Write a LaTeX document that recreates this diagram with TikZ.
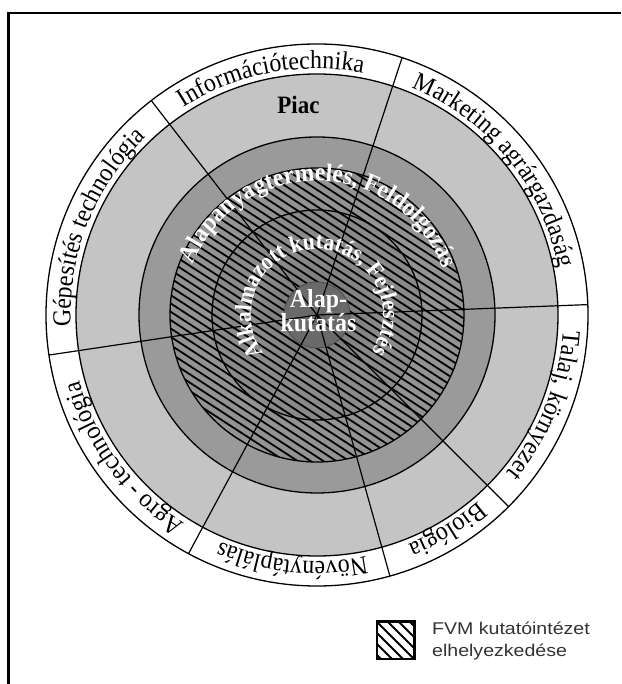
\documentclass[tikz,border=0pt]{standalone}
\usepackage{fontspec}
\setmainfont{Liberation Serif}
\newfontfamily\narrowserif[FakeStretch=0.92]{Liberation Serif}
\newfontfamily\legendfont[FakeStretch=1.15]{Liberation Sans}
\usetikzlibrary{decorations.text,calc}
\definecolor{ringlight}{HTML}{C4C4C4}
\definecolor{ringmid}{HTML}{9A9A9A}
\definecolor{hatchbg}{HTML}{939393}
\definecolor{innerbg}{HTML}{8A8A8A}
\definecolor{coredark}{HTML}{707070}
\definecolor{coredisc}{HTML}{6A6A6A}
\definecolor{legendtext}{HTML}{333333}
\tikzset{
  ringline/.style={draw=black, line width=1.3pt},
  sectorline/.style={black, line width=1.2pt},
  hatchline/.style={black, line width=1.8pt},
  framestyle/.style={black, line width=2.5pt},
}
\newcommand\bandlabel[2]{%
  \path[decorate,decoration={text along path,text align=center,
    text={|\narrowserif\fontsize{26}{26}\selectfont|#2}}]
    ($(C)+(#1+35:246.5pt)$) arc[start angle=#1+35, end angle=#1-35, radius=246.5pt];}
\begin{document}
\begin{tikzpicture}[x=1pt,y=1pt]
\useasboundingbox (0,0) rectangle (621,684);
\coordinate (C) at (317,369);
% frame
\draw[framestyle] (8.5,0) -- (8.5,671) -- (621,671);
% rings
\fill[white] (C) circle (271pt);
\fill[ringlight] (C) circle (241pt);
\fill[ringmid] (C) circle (178pt);
\fill[hatchbg] (C) circle (147pt);
\fill[innerbg] (C) circle (105pt);
\shade[inner color=coredark, outer color=innerbg] (C) circle (62pt);
% hatching
\begin{scope}
  \clip (C) circle (147pt);
  \begin{scope}[shift={(C)}, rotate=-33]
    \foreach \k in {-22,...,22}
      \draw[hatchline] (-160, \k*7) -- (160, \k*7);
  \end{scope}
\end{scope}
\fill[coredisc] (C) circle (33pt);
% outlines
\foreach \r in {271,241,178,147,105}
  \draw[ringline] (C) circle (\r pt);
\draw[black!70, line width=0.8pt] (C) circle (33pt);
% sector lines
\foreach \a in {127.7,71.7,2.2,-45,-74.4,-118.3,188.5}
  \draw[sectorline] (C) -- ($(C)+(\a:271pt)$);
% band labels
\bandlabel{101}{Információtechnika}
\bandlabel{39.2}{Marketing agrárgazdaság}
\bandlabel{-21.6}{Talaj, környezet}
\bandlabel{-58.8}{Biológia}
\bandlabel{-95.8}{Növénytáplálás}
\bandlabel{-143.5}{Agro - technológia}
\bandlabel{158.3}{Gépesítés technológia}
% inner curved labels
\path[decorate,decoration={text along path,text align=center,
  text={|\color{white}\narrowserif\bfseries\fontsize{25.5}{25.5}\selectfont|Alapanyagtermelés, Feldolgozás}}]
  ($(C)+(199:134pt)$) arc[start angle=199, end angle=-21, radius=134pt];
\path[decorate,decoration={text along path,text align=center,
  text={|\color{white}\narrowserif\bfseries\fontsize{23.5}{23.5}\selectfont|Alkalmazott kutatás, Fejlesztés}}]
  ($(C)+(261:66pt)$) arc[start angle=261, end angle=-79, radius=66pt];
% straight labels
\node[font=\narrowserif\bfseries\fontsize{25}{25}\selectfont, inner sep=0] (piac) at (298.5,579) {Piac};
\node[font=\narrowserif\bfseries\fontsize{26}{24}\selectfont, text=white, align=center, inner sep=0] (alap) at (318.5,373) {Alap-\\kutatás};
% legend
\node[draw, line width=1.5pt, minimum size=37pt, inner sep=0] (legbox) at (395.5,43.5) {};
\begin{scope}
  \clip (legbox.south west) rectangle (legbox.north east);
  \foreach \k in {-4,...,4}
    \draw[hatchline] ($(legbox.north west)+(\k*11,0)$) -- ++(45,-45);
\end{scope}
\draw[line width=1.5pt] (legbox.south west) rectangle (legbox.north east);
\node[anchor=base west, inner sep=0, font=\legendfont\fontsize{17}{22}\selectfont, text=legendtext] (leg1) at (432,49) {FVM kutatóintézet};
\node[anchor=base west, inner sep=0, font=\legendfont\fontsize{17}{22}\selectfont, text=legendtext] (leg2) at (432,27) {elhelyezkedése};
\end{tikzpicture}
\end{document}
